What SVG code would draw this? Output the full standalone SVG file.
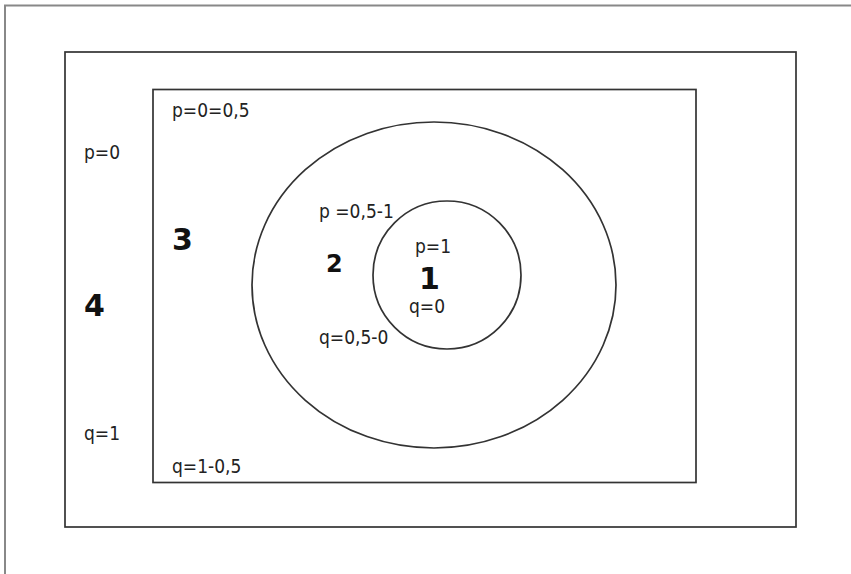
<svg xmlns="http://www.w3.org/2000/svg" width="851" height="574" viewBox="0 0 851 574">
<style>
.frame{fill:none;stroke:#888;stroke-width:2}
.shape{fill:none;stroke:#333;stroke-width:1.7}
.lbl{font-family:"DejaVu Sans Condensed","DejaVu Sans",Verdana,sans-serif;font-stretch:condensed;font-size:19px;fill:#222}
.num{font-family:"DejaVu Sans",Verdana,sans-serif;font-size:30px;font-weight:bold;fill:#111}
</style>
<rect width="851" height="574" fill="#fff"/>
<rect class="frame" x="5" y="5.5" width="900" height="700"/>
<g id="region4">
<rect class="shape" x="65" y="52" width="731" height="475"/>
<text class="lbl" x="84" y="159">p=0</text>
<text class="num" x="84" y="316">4</text>
<text class="lbl" x="84" y="440">q=1</text>
</g>
<g id="region3">
<rect class="shape" x="153" y="89.5" width="543" height="393"/>
<text class="lbl" x="172" y="117">p=0=0,5</text>
<text class="num" x="172" y="250">3</text>
<text class="lbl" x="172" y="473">q=1-0,5</text>
</g>
<g id="region2">
<ellipse class="shape" cx="434" cy="285" rx="182" ry="163"/>
<text class="lbl" x="319" y="218">p =0,5-1</text>
<text class="num" x="326" y="272" style="font-size:24px">2</text>
<text class="lbl" x="319" y="344">q=0,5-0</text>
</g>
<g id="region1">
<circle class="shape" cx="447" cy="275" r="74"/>
<text class="lbl" x="415" y="253">p=1</text>
<text class="num" x="419" y="289">1</text>
<text class="lbl" x="409" y="313">q=0</text>
</g>
<g id="connectors"></g>
</svg>
